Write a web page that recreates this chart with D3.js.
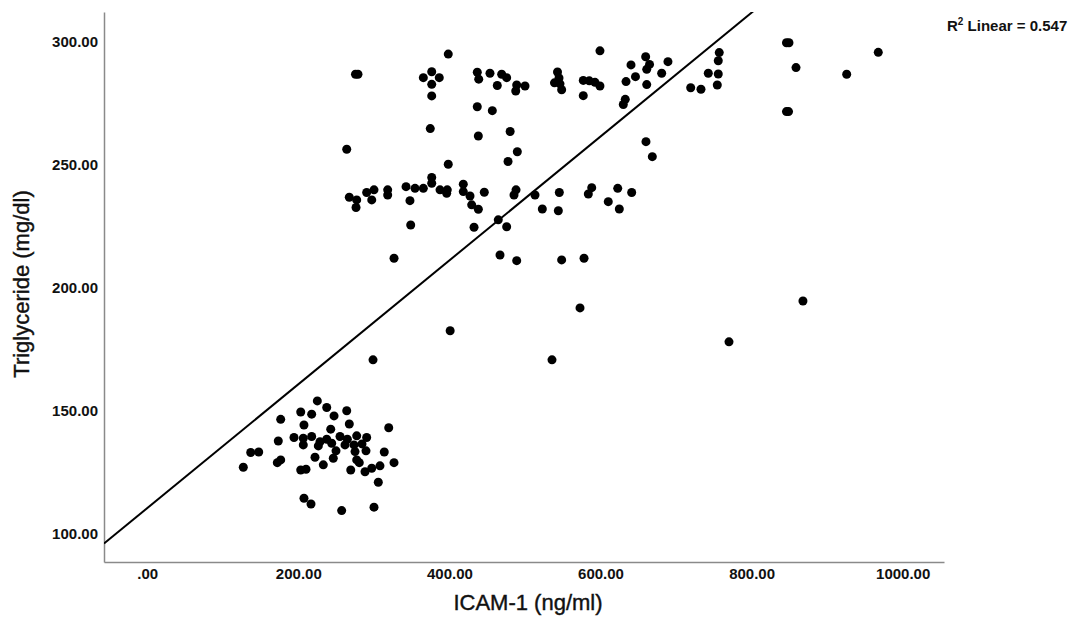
<!DOCTYPE html>
<html>
<head>
<meta charset="utf-8">
<script src="https://cdn.jsdelivr.net/npm/d3@7/dist/d3.min.js"></script>
<style>
  html, body { margin: 0; padding: 0; background: #ffffff; }
  svg { display: block; font-family: "Liberation Sans", Arial, sans-serif; }
</style>
</head>
<body>
<svg id="chart" width="1081" height="630"></svg>
<script>
// ICAM-1 (ng/ml) for each subject
const icam = [
  225.2,203.2,217.7,237.6,247.3,264.1,176.7,207.5,242.9,267.5,319.7,194.3,206.6,217.7,228.7,237.6,
  206.6,226.5,255.2,264.9,277.3,290.5,261.8,273.7,173.5,137.0,147.6,127.2,176.7,172.2,222.1,233.1,
  246.3,203.2,210.2,275.1,277.3,289.6,280.7,269.4,288.3,297.2,308.1,313.8,326.7,305.9,207.5,216.8,
  257.4,300.2,244.2,284.3,249.9,
  298.9,401.0,535.8,572.9,770.1,868.0,
  660.2,668.6,264.1,398.5,477.6,489.9,267.5,277.3,276.4,290.5,300.2,297.2,318.3,318.3,342.6,354.5,
  365.5,376.6,376.6,387.6,397.2,396.4,418.4,418.4,427.3,429.5,438.3,446.2,347.8,488.2,485.5,513.3,
  545.5,523.0,544.2,588.4,583.9,622.8,641.3,610.3,624.9,348.8,326.7,432.6,464.7,475.8,467.0,489.1,
  548.6,578.2,
  275.7,279.0,398.5,376.6,365.5,386.6,376.6,376.6,436.9,438.8,453.7,469.2,475.8,463.4,436.9,456.8,
  374.7,438.3,480.4,487.8,489.1,500.1,599.3,543.1,545.1,539.1,546.4,548.6,577.2,585.2,592.7,599.3,
  577.2,640.4,659.8,664.9,661.2,646.3,633.8,661.2,681.0,689.3,632.8,630.2,719.4,733.0,742.7,755.9,
  757.2,755.9,754.6,846.2,849.5,858.8,846.2,848.9,925.9,967.7
];

// Triglyceride (mg/dl), same order as icam
const triglyceride = [
  153.8,149.3,148.4,151.1,147.7,149.8,146.3,144.0,142.3,144.4,142.9,138.9,138.6,139.3,137.2,138.2,
  135.9,135.5,139.3,138.2,139.6,138.9,135.9,135.9,137.5,132.8,133.0,126.8,129.8,128.7,130.9,127.8,
  130.5,125.7,126.0,133.2,129.8,133.5,128.7,125.7,125.0,126.4,127.4,133.0,128.7,120.7,114.2,111.9,
  109.2,110.6,136.6,136.3,133.5,
  170.5,182.3,170.5,191.6,177.8,194.4,
  259.2,253.1,256.1,250.0,251.1,255.1,236.6,235.5,232.4,238.5,239.6,235.5,239.6,237.5,240.9,240.2,
  240.2,244.6,242.3,239.6,239.6,238.2,241.9,238.9,237.1,233.5,231.7,238.6,235.2,239.6,237.5,237.5,
  238.5,231.8,231.1,240.5,237.9,240.2,238.5,234.8,231.8,225.3,211.8,224.4,227.4,224.6,213.1,210.8,
  211.1,211.8,
  286.6,286.6,294.8,287.6,285.2,285.2,282.5,277.8,287.4,284.6,287.0,286.6,285.2,282.0,273.4,271.8,
  264.5,261.5,263.3,279.8,282.2,281.8,296.1,287.5,285.1,283.1,282.7,280.3,284.1,283.9,283.3,281.8,
  277.9,290.4,293.7,290.6,288.6,285.6,283.6,282.4,287.0,291.7,276.4,274.3,281.1,280.5,287.0,286.7,
  295.4,292.1,282.2,299.4,299.4,289.3,271.4,271.4,286.6,295.5
];

// Axis ticks
const xTicks = [0, 200, 400, 600, 800, 1000];
const xTickLabels = [".00", "200.00", "400.00", "600.00", "800.00", "1000.00"];
const yTicks = [100, 150, 200, 250, 300];
const yTickLabels = ["100.00", "150.00", "200.00", "250.00", "300.00"];

// Axis ranges
const xDomain = [-57.2, 1054.7];
const yDomain = [88.3, 311.9];

// Linear fit: triglyceride = intercept + slope * icam
const fitIntercept = 110.2;
const fitSlope = 0.2518;
const rSquared = "0.547";

const xTitle = "ICAM-1 (ng/ml)";
const yTitle = "Triglyceride (mg/dl)";

const plot = { left: 104, right: 944, top: 12, bottom: 562 };
const svg = d3.select("#chart");

svg.append("rect").attr("width", 1081).attr("height", 630).attr("fill", "#ffffff");

const x = d3.scaleLinear().domain(xDomain).range([plot.left, plot.right]);
const y = d3.scaleLinear().domain(yDomain).range([plot.bottom, plot.top]);

svg.append("clipPath").attr("id", "plot-clip")
  .append("rect")
  .attr("x", plot.left).attr("y", plot.top)
  .attr("width", plot.right - plot.left).attr("height", plot.bottom - plot.top);

// Axes
const xAxis = d3.axisBottom(x)
  .tickValues(xTicks)
  .tickFormat((d, i) => xTickLabels[i])
  .tickSize(0)
  .tickPadding(6);

const yAxis = d3.axisLeft(y)
  .tickValues(yTicks)
  .tickFormat((d, i) => yTickLabels[i])
  .tickSize(0)
  .tickPadding(6);

const gx = svg.append("g")
  .attr("transform", `translate(0,${plot.bottom})`)
  .call(xAxis);

const gy = svg.append("g")
  .attr("transform", `translate(${plot.left},0)`)
  .call(yAxis);

[gx, gy].forEach(g => {
  g.select(".domain").attr("stroke", "#8a8a8a").attr("stroke-width", 1.5);
  g.selectAll(".tick text")
    .attr("fill", "#111")
    .style("font-family", '"Liberation Sans", Arial, sans-serif')
    .style("font-size", "15px")
    .style("font-weight", "bold");
});

// Fit line
const fit = v => fitIntercept + fitSlope * v;
svg.append("line")
  .attr("clip-path", "url(#plot-clip)")
  .attr("x1", x(xDomain[0])).attr("y1", y(fit(xDomain[0])))
  .attr("x2", x(xDomain[1])).attr("y2", y(fit(xDomain[1])))
  .attr("stroke", "#000")
  .attr("stroke-width", 2);

// Points
svg.append("g")
  .selectAll("circle")
  .data(d3.range(icam.length))
  .join("circle")
  .attr("cx", i => x(icam[i]))
  .attr("cy", i => y(triglyceride[i]))
  .attr("r", 4.5)
  .attr("fill", "#000");

// Axis titles
svg.append("text")
  .attr("x", 528).attr("y", 610)
  .attr("text-anchor", "middle")
  .style("font-size", "22px")
  .attr("fill", "#111")
  .attr("stroke", "#111")
  .attr("stroke-width", 0.4)
  .text(xTitle);

svg.append("text")
  .attr("transform", "translate(29,284) rotate(-90)")
  .attr("text-anchor", "middle")
  .style("font-size", "22px")
  .attr("fill", "#111")
  .attr("stroke", "#111")
  .attr("stroke-width", 0.4)
  .text(yTitle);

// R squared annotation
const r2 = svg.append("text")
  .attr("x", 947).attr("y", 31)
  .style("font-size", "15px")
  .style("font-weight", "bold")
  .attr("fill", "#111");
r2.append("tspan").text("R");
r2.append("tspan").attr("dy", -6).style("font-size", "10px").text("2");
r2.append("tspan").attr("dy", 6).text(" Linear = " + rSquared);
</script>
</body>
</html>
